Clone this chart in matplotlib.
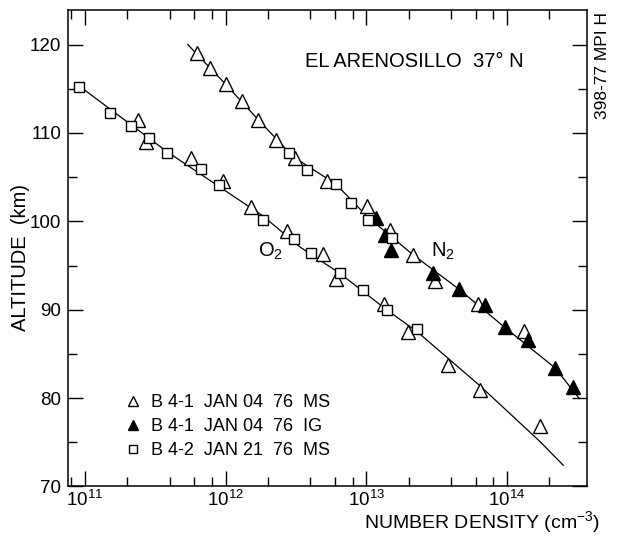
import matplotlib
matplotlib.use("Agg")
import matplotlib.pyplot as plt
from matplotlib.ticker import LogLocator, FixedLocator, NullFormatter

plt.rcParams['font.family'] = ['Liberation Sans', 'DejaVu Sans']
plt.rcParams['mathtext.default'] = 'regular'

# B4-1 JAN 04 76 MS (open triangles), O2 and N2 branches
ms_o2_density = [2.39e11, 2.72e11, 5.64e11, 9.62e11, 1.51e12, 2.72e12, 4.94e12,
                 6.08e12, 1.33e13, 1.99e13, 3.78e13, 6.41e13, 1.71e14]
ms_o2_alt = [111.5, 109.0, 107.2, 104.6, 101.6, 98.9, 96.3,
             93.5, 90.6, 87.5, 83.8, 80.9, 76.8]
ms_n2_density = [6.28e11, 7.73e11, 1.00e12, 1.30e12, 1.70e12, 2.28e12, 3.11e12,
                 5.22e12, 1.01e13, 1.47e13, 2.15e13, 3.08e13, 6.18e13, 1.32e14]
ms_n2_alt = [119.0, 117.3, 115.5, 113.6, 111.5, 109.2, 107.2,
             104.6, 101.7, 99.0, 96.2, 93.2, 90.6, 87.6]

# B4-1 JAN 04 76 IG (filled triangles), N2
ig_n2_density = [1.17e13, 1.36e13, 1.49e13, 2.96e13, 4.57e13, 7.00e13,
                 9.62e13, 1.40e14, 2.20e14, 2.96e14]
ig_n2_alt = [100.4, 98.5, 96.8, 94.1, 92.3, 90.5, 88.0, 86.6, 83.4, 81.3]

# B4-2 JAN 21 76 MS (squares), O2 and N2 branches
sq_o2_density = [9.11e10, 1.51e11, 2.12e11, 2.86e11, 3.81e11, 6.67e11, 9.02e11,
                 1.85e12, 3.06e12, 4.02e12, 6.49e12, 9.42e12, 1.39e13, 2.30e13]
sq_o2_alt = [115.2, 112.3, 110.8, 109.4, 107.7, 105.9, 104.1,
             100.2, 98.0, 96.4, 94.2, 92.2, 90.0, 87.8]
sq_n2_density = [2.83e12, 3.77e12, 6.08e12, 7.78e12, 1.02e13, 1.51e13]
sq_n2_alt = [107.7, 105.8, 104.2, 102.1, 100.2, 98.1]

# fitted profiles
o2_fit_density = [9.11e10, 3.81e11, 1.84e12, 3.37e12, 6.49e12, 1.39e13,
                  2.30e13, 6.41e13, 1.71e14, 2.51e14]
o2_fit_alt = [115.3, 107.9, 100.6, 97.1, 94.1, 90.0, 87.5, 81.4, 75.1, 72.4]
n2_fit_density = [5.37e11, 1.00e12, 1.70e12, 3.02e12, 6.08e12, 1.02e13,
                  2.15e13, 4.57e13, 9.62e13, 2.20e14, 3.24e14]
n2_fit_alt = [120.0, 115.5, 111.5, 107.3, 104.2, 100.5, 96.2, 92.3, 88.0, 83.4, 80.0]

legend_labels = ["B 4-1  JAN 04  76  MS", "B 4-1  JAN 04  76  IG", "B 4-2  JAN 21  76  MS"]


def main():
    fig = plt.figure(figsize=(6.17, 5.42), dpi=100)
    ax = fig.add_axes([0.1102, 0.1024, 0.8412, 0.8791])

    ax.plot(o2_fit_density, o2_fit_alt, color='black', lw=0.9)
    ax.plot(n2_fit_density, n2_fit_alt, color='black', lw=0.9)

    tri = dict(marker='^', ms=9.5, mfc='white', mec='black', mew=1.0, ls='none')
    ax.plot(ms_o2_density, ms_o2_alt, **tri)
    h1, = ax.plot(ms_n2_density, ms_n2_alt, **tri)
    h2, = ax.plot(ig_n2_density, ig_n2_alt, marker='^', ms=9.5, mfc='black',
                  mec='black', ls='none')
    sq = dict(marker='s', ms=7.5, mfc='white', mec='black', mew=1.0, ls='none')
    ax.plot(sq_o2_density, sq_o2_alt, **sq)
    h3, = ax.plot(sq_n2_density, sq_n2_alt, **sq)

    ax.set_xscale('log')
    ax.set_xlim(7.57e10, 3.70e14)
    ax.set_ylim(70, 123.9)

    ax.xaxis.set_major_locator(LogLocator(base=10, numticks=10))
    ax.xaxis.set_minor_locator(LogLocator(base=10, subs=(2, 4, 6, 8), numticks=10))
    ax.xaxis.set_minor_formatter(NullFormatter())
    ax.yaxis.set_major_locator(FixedLocator([70, 80, 90, 100, 110, 120]))
    ax.yaxis.set_minor_locator(FixedLocator([75, 85, 95, 105, 115]))

    ax.tick_params(which='both', direction='in', top=True, right=True,
                   labelsize=13.5, width=1.0)
    ax.tick_params(which='major', length=11, pad=5)
    ax.tick_params(which='minor', length=6.5)
    ax.tick_params(axis='x', which='major', pad=2.5)
    for s in ax.spines.values():
        s.set_linewidth(1.1)

    ax.legend([h1, h2, h3], legend_labels, loc='upper left',
              bbox_to_anchor=(0.08, 0.228), frameon=False, fontsize=13,
              handlelength=0.8, handletextpad=0.6, labelspacing=0.38,
              markerscale=0.7)

    ax.text(0.366, 0.482, "O$_2$", transform=ax.transAxes, fontsize=14.5,
            va='baseline')
    ax.text(0.699, 0.482, "N$_2$", transform=ax.transAxes, fontsize=14.5,
            va='baseline')

    fig.text(0.671, 0.886, "EL ARENOSILLO  37° N", fontsize=14.5,
             ha='center', va='center')
    fig.text(0.976, 0.880, "398-77 MPI H", fontsize=12.5, rotation=90,
             ha='center', va='center')
    fig.text(0.033, 0.524, "ALTITUDE  (km)", fontsize=14.5, rotation=90,
             ha='center', va='center')
    fig.text(0.972, 0.036, "NUMBER DENSITY (cm$^{-3}$)", fontsize=14,
             ha='right', va='center')

    fig.savefig("out.png", dpi=100)


if __name__ == '__main__':
    main()
